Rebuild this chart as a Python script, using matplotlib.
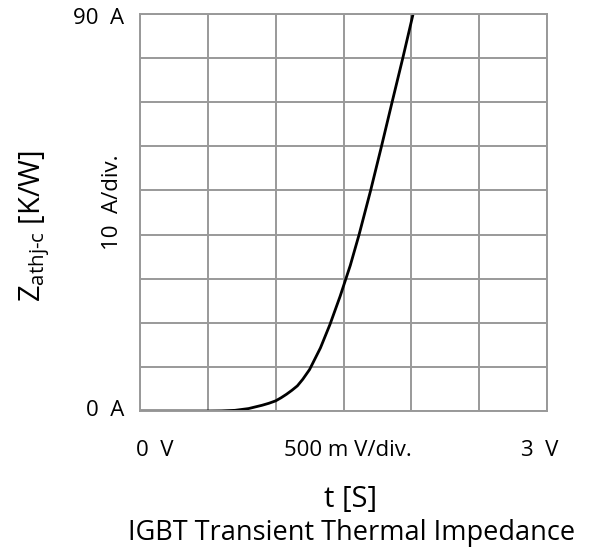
import matplotlib
matplotlib.use("Agg")
import matplotlib.pyplot as plt

plt.rcParams['font.family'] = ['Open Sans', 'DejaVu Sans']
plt.rcParams['mathtext.fontset'] = 'custom'
plt.rcParams['mathtext.rm'] = 'Open Sans'
plt.rcParams['mathtext.it'] = 'Open Sans'

# Data
voltage = [0.0, 0.5, 0.6, 0.7, 0.8, 0.9, 0.95, 1.0, 1.04, 1.08, 1.12, 1.16, 1.2,
           1.25, 1.33, 1.40, 1.475, 1.55, 1.615, 1.70, 1.78, 1.858, 1.937, 2.013]
current = [0.0, 0.0, 0.03, 0.15, 0.55, 1.3, 1.75, 2.3, 3.0, 3.8, 4.7, 5.7, 7.2,
           9.4, 14.3, 19.6, 26.0, 33.0, 40.0, 50.0, 60.0, 70.0, 80.0, 90.0]

x_ticks = [0.0, 0.5, 1.0, 1.5, 2.0, 2.5, 3.0]
y_ticks = [0, 10, 20, 30, 40, 50, 60, 70, 80, 90]

fig = plt.figure(figsize=(5.92, 5.54), dpi=100)
ax = fig.add_axes([140/592, 1-411/554, 407/592, 397/554])
ax.set_xlim(0, 3)
ax.set_ylim(0, 90)
ax.set_xticks(x_ticks)
ax.set_yticks(y_ticks)
ax.grid(True, color='#999999', linewidth=1.4)
ax.tick_params(left=False, bottom=False, labelleft=False, labelbottom=False)
for s in ax.spines.values():
    s.set_color('#999999')
    s.set_linewidth(1.4)
ax.set_axisbelow(True)

ax.plot(voltage, current, color='black', linewidth=2.0, clip_on=True,
        solid_joinstyle='round')

def px(x, y):
    return x/592, 1-y/554

fs = 16
fig.text(*px(124, 19), '90  A', ha='right', va='center', fontsize=fs)
fig.text(*px(124, 410), '0  A', ha='right', va='center', fontsize=fs)
fig.text(*px(112, 202), '10  A/div.', ha='center', va='center', rotation=90, fontsize=fs)
fig.text(*px(155, 450), '0  V', ha='center', va='center', fontsize=fs)
fig.text(*px(348, 450), '500 m V/div.', ha='center', va='center', fontsize=fs)
fig.text(*px(540, 450), '3  V', ha='center', va='center', fontsize=fs)
fig.text(*px(35, 226), r'Z$_{\mathrm{athj\text{-}c}}$ [K/W]', ha='center', va='center',
         rotation=90, fontsize=21)
fig.text(*px(351, 500), 't [S]', ha='center', va='center', fontsize=21)
fig.text(*px(352, 533), 'IGBT Transient Thermal Impedance', ha='center', va='center', fontsize=19.5)

fig.savefig('out.png', dpi=100)
